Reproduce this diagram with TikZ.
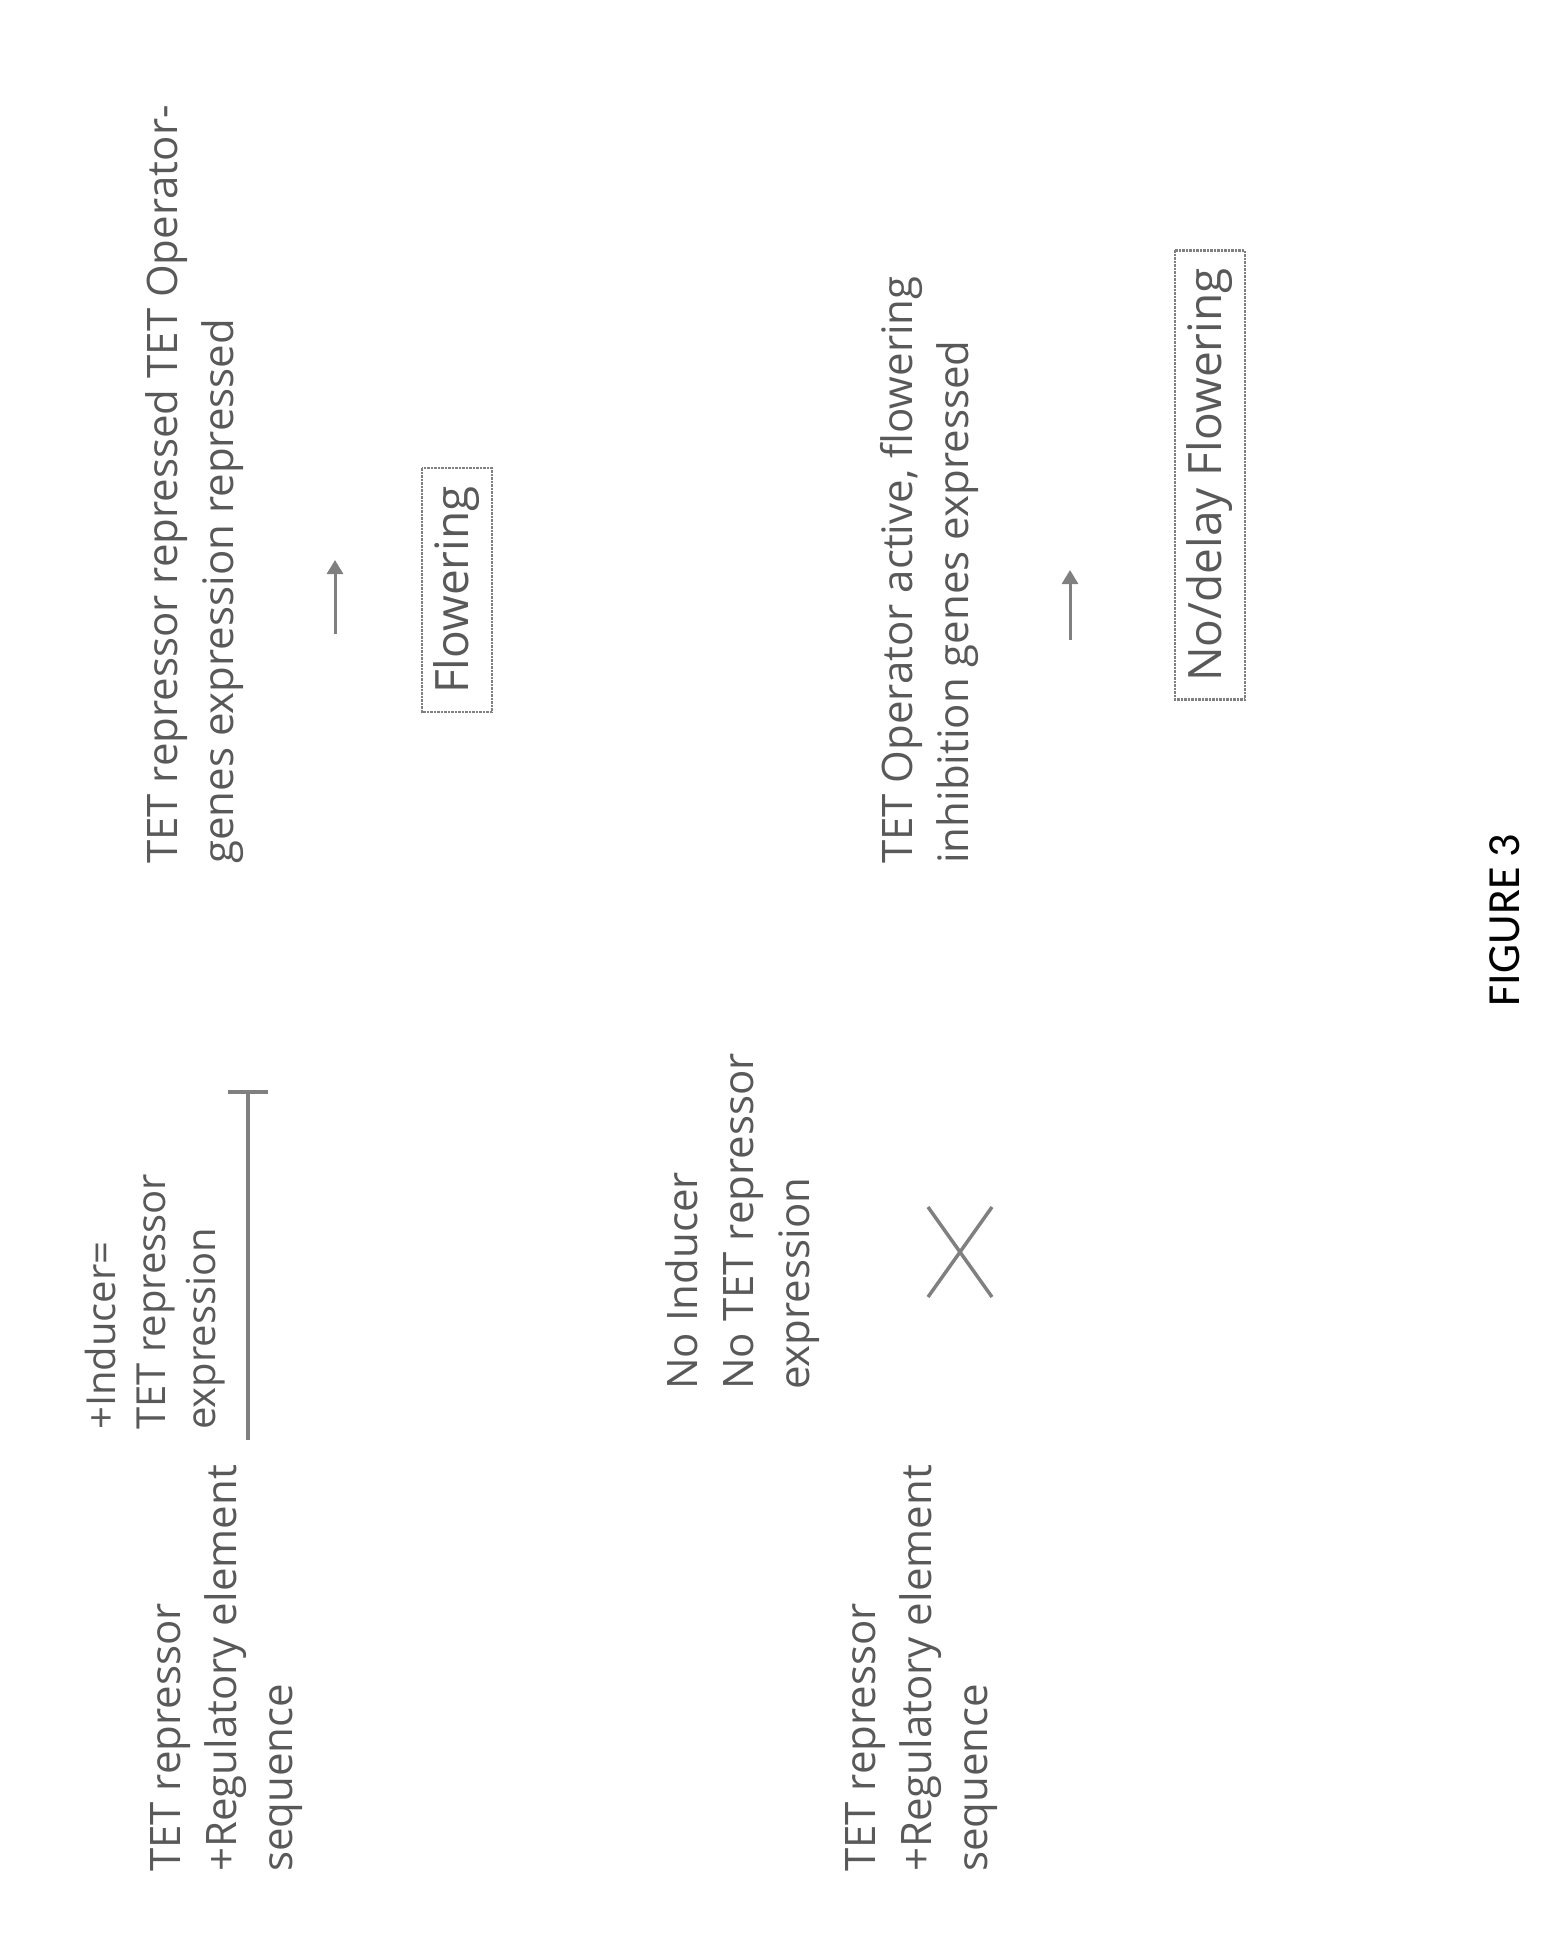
\documentclass[tikz,border=0pt]{standalone}
\usepackage{fontspec}
\setmainfont{Open Sans}
\newfontfamily\figfont{Carlito}
\usetikzlibrary{arrows.meta}
\begin{document}
\begin{tikzpicture}[x=1pt,y=-1pt,
  lbl/.style={rotate=90,anchor=north west,inner sep=0pt,align=left,text=black!65,font=\fontsize{42}{56}\selectfont},
  boxed/.style={rotate=90,draw=black!50,densely dotted,line width=2.5pt,inner xsep=18pt,inner ysep=12pt,text=black!65,font=\fontsize{46}{50}\selectfont},
  conn/.style={black!50,line width=4pt}]
\useasboundingbox (0,0) rectangle (1565,1959);
\node[lbl] (a1) at (150,1872) {TET repressor\\+Regulatory element\\sequence};
\node[lbl,font=\fontsize{40}{50}\selectfont] (a2) at (85,1430) {+Inducer=\\TET repressor\\expression};
\node[lbl] (a3) at (145,864) {TET repressor repressed TET Operator-\\genes expression repressed};
\node[boxed] (f1) at (457,590) {Flowering};
\node[lbl] (b1) at (845,1872) {TET repressor\\+Regulatory element\\sequence};
\node[lbl] (b2) at (665,1390) {No Inducer\\No TET repressor\\expression};
\node[lbl] (b3) at (880,864) {TET Operator active, flowering\\inhibition genes expressed};
\node[boxed] (f2) at (1210,475) {No/delay Flowering};
\node[rotate=90,font=\figfont\fontsize{46}{50}\selectfont] (fig) at (1505,920) {FIGURE 3};
\coordinate (t1) at (248,1440); \coordinate (t2) at (248,1090);
\draw[conn,-{Bar[width=40pt]}] (t1) -- (t2);
\coordinate (p1) at (335,634); \coordinate (p2) at (335,560);
\draw[conn,line width=3pt,-{Triangle[width=16pt,length=14pt]}] (p1) -- (p2);
\coordinate (q1) at (1070,640); \coordinate (q2) at (1070,570);
\draw[conn,line width=3pt,-{Triangle[width=16pt,length=14pt]}] (q1) -- (q2);
\coordinate (x0) at (960,1252);
\draw[conn,line width=3.5pt] ([shift={(-32,-45)}]x0) -- ([shift={(32,45)}]x0);
\draw[conn,line width=3.5pt] ([shift={(32,-45)}]x0) -- ([shift={(-32,45)}]x0);
\end{tikzpicture}
\end{document}
